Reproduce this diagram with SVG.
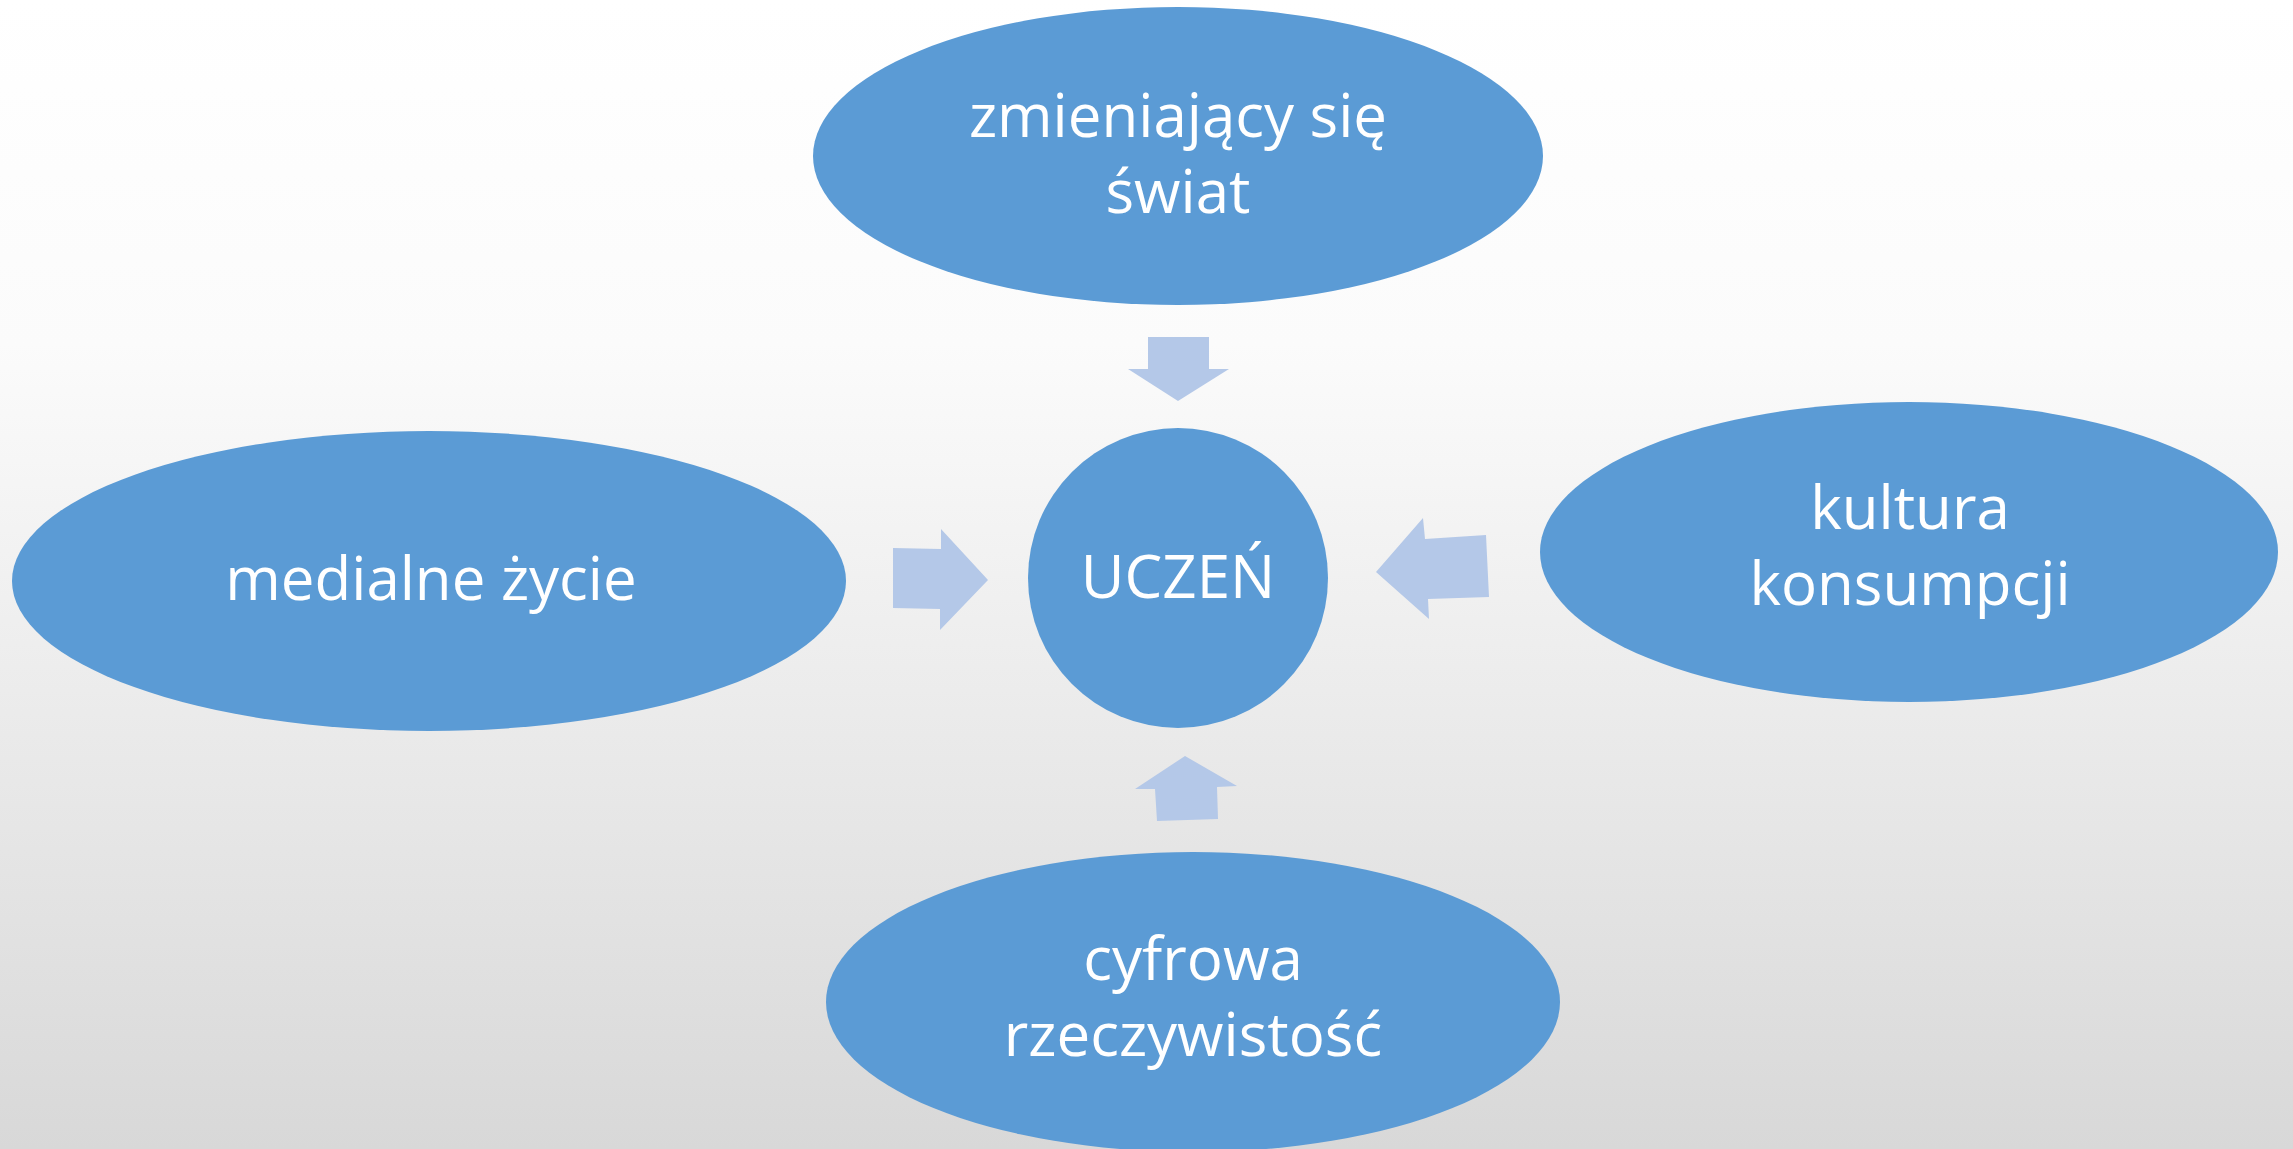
<svg xmlns="http://www.w3.org/2000/svg" width="2293" height="1149" viewBox="0 0 2293 1149">
<defs>
<linearGradient id="bg" x1="0" y1="0" x2="0" y2="1">
<stop offset="0" stop-color="#ffffff"/>
<stop offset="0.3" stop-color="#fbfbfb"/>
<stop offset="1" stop-color="#d8d8d8"/>
</linearGradient>
<style>
.n{fill:#5b9bd5}
.a{fill:#b4c8e8}
.t{fill:#ffffff;font-family:"Open Sans","Liberation Sans",sans-serif;font-size:60px;text-anchor:middle}
</style>
</defs>
<rect width="2293" height="1149" fill="url(#bg)"/>
<g id="connectors">
<polygon class="a" points="1148,337 1209,337 1209,369 1229,369 1178,401 1128,369 1148,369"/>
<polygon class="a" points="893,548 941,549 941,529 988,580 940,630 940,609 893,608"/>
<polygon class="a" points="1486,535 1425,539 1423,518 1376,572 1429,619 1428,599 1489,597"/>
<polygon class="a" points="1157,821 1155,789 1135,789 1185,756 1237,786 1217,787 1218,819"/>
</g>
<g id="node-top"><ellipse class="n" cx="1178" cy="156" rx="365" ry="149"/>
<text class="t" x="1178" y="137">zmieniający się</text><text class="t" x="1178" y="213">świat</text></g>
<g id="node-left"><ellipse class="n" cx="429" cy="581" rx="417" ry="150"/>
<text class="t" x="431" y="600">medialne życie</text></g>
<g id="node-center"><circle class="n" cx="1178" cy="578" r="150"/>
<text class="t" x="1178" y="598">UCZEŃ</text></g>
<g id="node-right"><ellipse class="n" cx="1909" cy="552" rx="369" ry="150"/>
<text class="t" x="1910" y="529">kultura</text><text class="t" x="1910" y="605">konsumpcji</text></g>
<g id="node-bottom"><ellipse class="n" cx="1193" cy="1002" rx="367" ry="150"/>
<text class="t" x="1193" y="980">cyfrowa</text><text class="t" x="1193" y="1056">rzeczywistość</text></g>
</svg>
